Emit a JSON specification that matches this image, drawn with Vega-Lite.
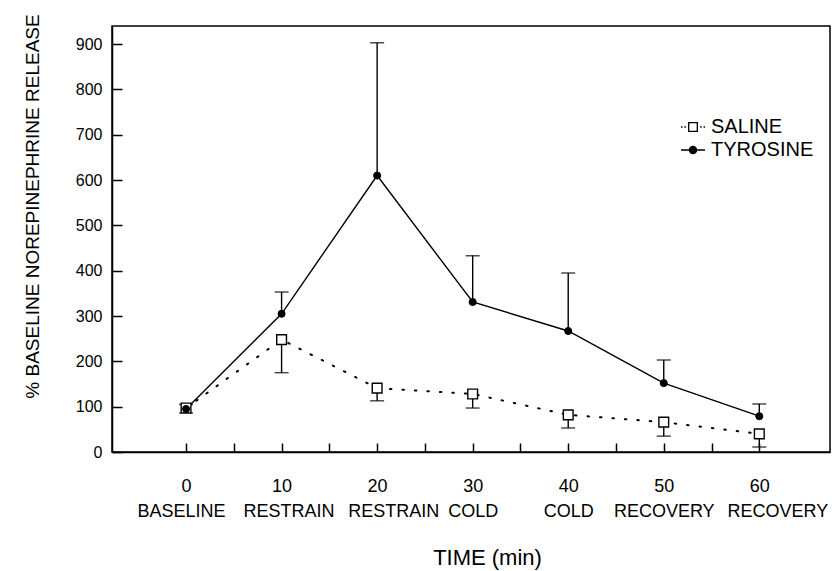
{
  "$schema": "https://vega.github.io/schema/vega-lite/v6.json",
  "width": 718,
  "height": 426,
  "autosize": {"type": "none"},
  "padding": {"left": 112, "top": 26, "right": 10, "bottom": 119},
  "background": "white",
  "config": {
    "font": "Liberation Sans",
    "view": {"stroke": "black", "strokeWidth": 1.5},
    "axis": {"domainColor": "black", "tickColor": "black", "labelColor": "black", "titleColor": "black", "grid": false, "domainWidth": 1.5, "tickWidth": 1.5}
  },
  "data": {
    "values": [
      {"series": "TYROSINE", "time": 0, "value": 95, "err": 105},
      {"series": "TYROSINE", "time": 10, "value": 305, "err": 353},
      {"series": "TYROSINE", "time": 20, "value": 610, "err": 903},
      {"series": "TYROSINE", "time": 30, "value": 331, "err": 433},
      {"series": "TYROSINE", "time": 40, "value": 267, "err": 395},
      {"series": "TYROSINE", "time": 50, "value": 152, "err": 203},
      {"series": "TYROSINE", "time": 60, "value": 79, "err": 106},
      {"series": "SALINE", "time": 0, "value": 97, "err": 86},
      {"series": "SALINE", "time": 10, "value": 248, "err": 175},
      {"series": "SALINE", "time": 20, "value": 141, "err": 113},
      {"series": "SALINE", "time": 30, "value": 128, "err": 97},
      {"series": "SALINE", "time": 40, "value": 82, "err": 53},
      {"series": "SALINE", "time": 50, "value": 66, "err": 35},
      {"series": "SALINE", "time": 60, "value": 40, "err": 11}
    ]
  },
  "resolve": {"scale": {"x": "independent"}, "axis": {"x": "independent"}},
  "layer": [
    {
      "encoding": {
        "x": {
          "field": "time", "type": "quantitative",
          "scale": {"domain": [-7.75, 67.4], "nice": false, "zero": false},
          "axis": {
            "values": [0, 5, 10, 15, 20, 25, 30, 35, 40, 45, 50, 55, 60],
            "tickSize": -9,
            "labelPadding": 34,
            "labelFontSize": 18,
            "labelExpr": "datum.value % 10 == 0 ? datum.label : ''",
            "labelOverlap": false,
            "title": "TIME (min)",
            "titleFontSize": 22,
            "titleFontWeight": "normal",
            "titleX": 375,
            "titleY": 105,
            "titleBaseline": "middle",
            "titleAlign": "center"
          }
        },
        "y": {
          "field": "value", "type": "quantitative",
          "scale": {"domain": [0, 940], "nice": false},
          "axis": {
            "values": [0, 100, 200, 300, 400, 500, 600, 700, 800, 900],
            "tickSize": -10,
            "labelPadding": 20,
            "labelFontSize": 16,
            "title": "% BASELINE NOREPINEPHRINE RELEASE",
            "titleFontSize": 19,
            "titleFontWeight": "normal",
            "titleAngle": 270,
            "titleX": -80,
            "titleY": 180,
            "titleAlign": "center",
            "titleBaseline": "middle"
          }
        }
      },
      "layer": [
        {
          "transform": [{"filter": "datum.series == 'SALINE'"}],
          "mark": {"type": "line", "color": "black", "strokeWidth": 2, "strokeDash": [1.5, 11], "strokeCap": "round"},
          "encoding": {}
        },
        {
          "transform": [{"filter": "datum.series == 'TYROSINE'"}],
          "mark": {"type": "line", "color": "black", "strokeWidth": 1.4},
          "encoding": {}
        },
        {
          "mark": {"type": "rule", "color": "black", "strokeWidth": 1.4},
          "encoding": {"y2": {"field": "err"}}
        },
        {
          "mark": {"type": "tick", "orient": "horizontal", "color": "black", "size": 14, "thickness": 1.5},
          "encoding": {"y": {"field": "err", "type": "quantitative"}}
        },
        {
          "transform": [{"filter": "datum.series == 'SALINE'"}],
          "mark": {"type": "point", "shape": "square", "filled": true, "fill": "white", "stroke": "black", "strokeWidth": 1.4, "size": 95, "opacity": 1},
          "encoding": {}
        },
        {
          "transform": [{"filter": "datum.series == 'TYROSINE'"}],
          "mark": {"type": "point", "shape": "circle", "filled": true, "fill": "black", "stroke": "black", "strokeWidth": 1, "size": 50, "opacity": 1},
          "encoding": {}
        },
        {
          "transform": [{"filter": "datum.time < -100"}],
          "mark": {"type": "point", "filled": true, "strokeWidth": 1.3, "opacity": 1},
          "encoding": {
            "shape": {
              "field": "series", "type": "nominal",
              "scale": {"domain": ["SALINE", "TYROSINE"], "range": ["M-1,0H-0.88M-0.72,0H-0.6M0.6,0H0.72M0.88,0H1M-0.36,-0.36H0.36V0.36H-0.36Z", "M-1,0H-0.3M0.3,0H1M-0.3,0A0.3,0.3 0 1,0 0.3,0A0.3,0.3 0 1,0 -0.3,0Z"]},
              "legend": {
                "orient": "none",
                "legendX": 568,
                "legendY": 88,
                "title": null,
                "labelFontSize": 20,
                "labelColor": "black",
                "labelOffset": 5,
                "rowPadding": 0,
                "symbolSize": 576,
                "symbolOpacity": 1,
                "symbolStrokeWidth": 1.3,
                "symbolStrokeColor": "black"
              }
            },
            "fill": {
              "field": "series", "type": "nominal",
              "scale": {"domain": ["SALINE", "TYROSINE"], "range": ["white", "black"]}
            },
            "stroke": {
              "field": "series", "type": "nominal",
              "scale": {"domain": ["SALINE", "TYROSINE"], "range": ["black", "black"]}
            }
          }
        }
      ]
    },
    {
      "mark": {"type": "point", "opacity": 0},
      "encoding": {
        "x": {
          "field": "time", "type": "quantitative",
          "scale": {"domain": [-7.75, 67.4], "nice": false, "zero": false},
          "axis": {
            "orient": "bottom",
            "values": [0, 10, 20, 30, 40, 50, 60],
            "ticks": false,
            "tickSize": 0,
            "domain": false,
            "labelPadding": 50,
            "labelFontSize": 18,
            "labelOverlap": false,
            "labelExpr": "datum.value == 0 ? 'BASELINE' : datum.value == 10 ? 'RESTRAIN' : datum.value == 20 ? 'RESTRAIN' : datum.value == 30 ? 'COLD' : datum.value == 40 ? 'COLD' : datum.value == 50 ? 'RECOVERY' : 'RECOVERY'",
            "labelOffset": {
              "condition": [
                {"test": "datum.value == 60", "value": 18},
                {"test": "datum.value == 20", "value": 16},
                {"test": "datum.value == 10", "value": 7},
                {"test": "datum.value == 0", "value": -5}
              ],
              "value": 0
            },
            "title": null
          }
        },
        "y": {"field": "value", "type": "quantitative"}
      }
    }
  ]
}
